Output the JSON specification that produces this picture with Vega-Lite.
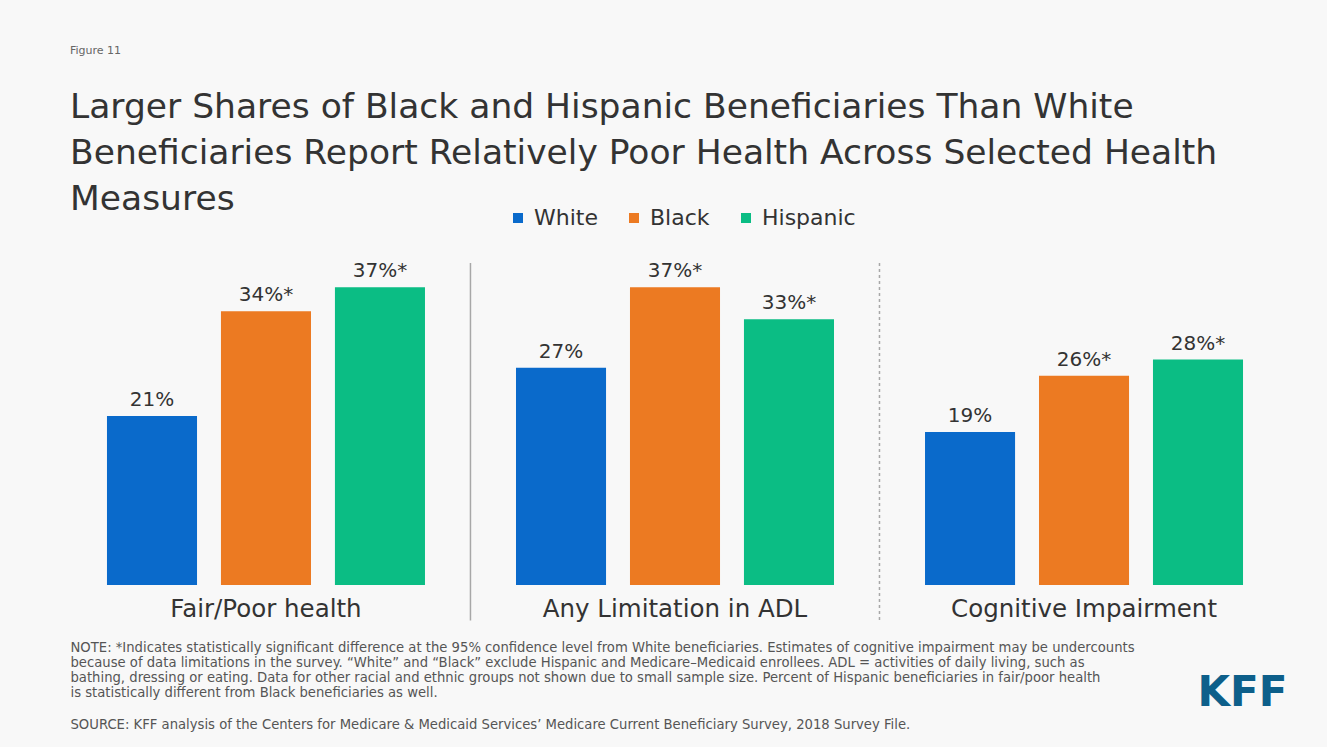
{
  "$schema": "https://vega.github.io/schema/vega-lite/v6.json",
  "width": 1230,
  "height": 322,
  "autosize": "none",
  "padding": {"left": 60, "top": 263, "right": 37, "bottom": 162},
  "background": "#f8f8f8",
  "config": {
    "view": {"stroke": null},
    "font": "DejaVu Sans"
  },
  "title": {
    "text": "Figure 11",
    "subtitle": [
      "Larger Shares of Black and Hispanic Beneficiaries Than White",
      "Beneficiaries Report Relatively Poor Health Across Selected Health",
      "Measures"
    ],
    "anchor": "start",
    "frame": "group",
    "dx": 10,
    "offset": -9,
    "fontSize": 11,
    "fontWeight": "normal",
    "color": "#666666",
    "subtitleFontSize": 34.5,
    "subtitleColor": "#333333",
    "subtitleLineHeight": 46,
    "subtitlePadding": 35
  },
  "datasets": {
    "health": [
      {"measure": "Fair/Poor health", "group": "White", "value": 21, "label": "21%"},
      {"measure": "Fair/Poor health", "group": "Black", "value": 34, "label": "34%*"},
      {"measure": "Fair/Poor health", "group": "Hispanic", "value": 37, "label": "37%*"},
      {"measure": "Any Limitation in ADL", "group": "White", "value": 27, "label": "27%"},
      {"measure": "Any Limitation in ADL", "group": "Black", "value": 37, "label": "37%*"},
      {"measure": "Any Limitation in ADL", "group": "Hispanic", "value": 33, "label": "33%*"},
      {"measure": "Cognitive Impairment", "group": "White", "value": 19, "label": "19%"},
      {"measure": "Cognitive Impairment", "group": "Black", "value": 26, "label": "26%*"},
      {"measure": "Cognitive Impairment", "group": "Hispanic", "value": 28, "label": "28%*"}
    ],
    "dividers": [
      {"measure": "Fair/Poor health", "top": 40, "bottom": -4.4},
      {"measure": "Any Limitation in ADL", "top": 40, "bottom": -4.4}
    ]
  },
  "resolve": {"axis": {"y": "independent"}},
  "encoding": {
    "x": {
      "field": "measure",
      "type": "nominal",
      "sort": ["Fair/Poor health", "Any Limitation in ADL", "Cognitive Impairment"],
      "scale": {"paddingInner": 0.164, "paddingOuter": 0.0856},
      "axis": {
        "orient": "bottom",
        "domain": false,
        "ticks": false,
        "labelFontSize": 24.5,
        "labelColor": "#333333",
        "labelPadding": 12,
        "labelAngle": 0,
        "labelLimit": 0,
        "title": [
          "NOTE: *Indicates statistically significant difference at the 95% confidence level from White beneficiaries. Estimates of cognitive impairment may be undercounts",
          "because of data limitations in the survey. \u201cWhite\u201d and \u201cBlack\u201d exclude Hispanic and Medicare\u2013Medicaid enrollees. ADL = activities of daily living, such as",
          "bathing, dressing or eating. Data for other racial and ethnic groups not shown due to small sample size. Percent of Hispanic beneficiaries in fair/poor health",
          "is statistically different from Black beneficiaries as well."
        ],
        "titleFontSize": 13.2,
        "titleFontWeight": "normal",
        "titleColor": "#555555",
        "titleLineHeight": 15,
        "titleAnchor": "start",
        "titleAlign": "left",
        "titleBaseline": "top",
        "titleX": 10,
        "titleY": 56
      }
    }
  },
  "layer": [
    {
      "data": {"name": "health"},
      "mark": {"type": "bar"},
      "encoding": {
        "xOffset": {
          "field": "group",
          "type": "nominal",
          "sort": ["White", "Black", "Hispanic"],
          "scale": {"paddingInner": 0.21, "paddingOuter": 0.105}
        },
        "y": {
          "field": "value",
          "type": "quantitative",
          "scale": {"domain": [0, 40], "nice": false, "clamp": false},
          "axis": {
            "orient": "right",
            "domain": false,
            "ticks": false,
            "labels": false,
            "grid": false,
            "title": "KFF",
            "titleAngle": 0,
            "titleFontSize": 42,
            "titleFontWeight": "bold",
            "titleColor": "#0d5f8a",
            "titleAlign": "center",
            "titleBaseline": "middle",
            "titleX": -48,
            "titleY": 429
          }
        },
        "color": {
          "field": "group",
          "type": "nominal",
          "sort": ["White", "Black", "Hispanic"],
          "scale": {
            "domain": ["White", "Black", "Hispanic"],
            "range": ["#0a6acb", "#ec7a22", "#0bbd84"]
          },
          "legend": {
            "title": null,
            "orient": "none",
            "direction": "horizontal",
            "legendX": 447,
            "legendY": -56,
            "symbolType": "square",
            "symbolSize": 100,
            "labelFontSize": 22,
            "labelColor": "#333333",
            "labelOffset": 5,
            "columnPadding": 25
          }
        }
      }
    },
    {
      "data": {"name": "health"},
      "mark": {"type": "text", "fontSize": 20, "color": "#333333", "baseline": "bottom", "dy": -6},
      "encoding": {
        "xOffset": {"field": "group", "type": "nominal", "sort": ["White", "Black", "Hispanic"]},
        "y": {"field": "value", "type": "quantitative", "axis": null},
        "text": {"field": "label"}
      }
    },
    {
      "data": {"name": "dividers"},
      "transform": [{"filter": "datum.measure === 'Fair/Poor health'"}],
      "mark": {"type": "rule", "color": "#a8a8a8", "strokeWidth": 1.5},
      "encoding": {
        "x": {"field": "measure", "type": "nominal", "bandPosition": 1.098},
        "y": {
          "field": "top",
          "type": "quantitative",
          "axis": {
            "orient": "left",
            "domain": false,
            "ticks": false,
            "labels": false,
            "grid": false,
            "title": "SOURCE: KFF analysis of the Centers for Medicare & Medicaid Services\u2019 Medicare Current Beneficiary Survey, 2018 Survey File.",
            "titleAngle": 0,
            "titleFontSize": 13.2,
            "titleFontWeight": "normal",
            "titleColor": "#555555",
            "titleAlign": "left",
            "titleBaseline": "middle",
            "titleLimit": 0,
            "titleX": 10,
            "titleY": 461
          }
        },
        "y2": {"field": "bottom"}
      }
    },
    {
      "data": {"name": "dividers"},
      "transform": [{"filter": "datum.measure === 'Any Limitation in ADL'"}],
      "mark": {"type": "rule", "color": "#a8a8a8", "strokeWidth": 1.5, "strokeDash": [3, 3]},
      "encoding": {
        "x": {"field": "measure", "type": "nominal", "bandPosition": 1.098},
        "y": {"field": "top", "type": "quantitative", "axis": null},
        "y2": {"field": "bottom"}
      }
    }
  ]
}
